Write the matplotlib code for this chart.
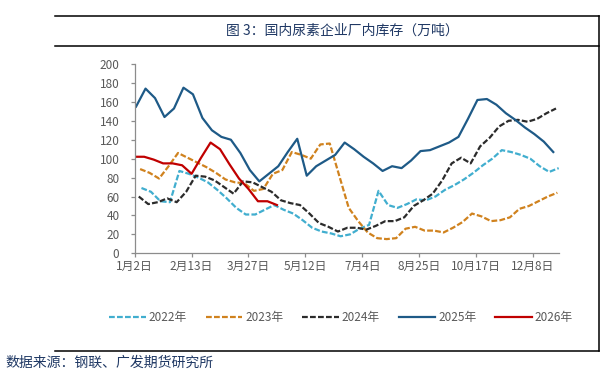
import datetime
import matplotlib
matplotlib.use("Agg")
import matplotlib.pyplot as plt
from matplotlib.lines import Line2D

plt.rcParams['font.family'] = ['Noto Sans CJK SC', 'DejaVu Sans']

# weekly factory inventory (10k t), one point per week starting from the first Thursday
v2022 = [69, 65, 55, 54, 87, 84, 80, 75, 67, 58, 48, 41, 41, 46, 51, 46, 42, 35, 27, 23,
         21, 18, 20, 26, 30, 66, 51, 48, 52, 57, 56, 60, 67, 72, 78, 85, 93, 100, 109, 107,
         104, 100, 92, 86, 90]
v2023 = [89, 85, 79, 92, 106, 101, 96, 91, 85, 78, 75, 74, 66, 68, 84, 88, 107, 104, 100, 115,
         116, 82, 48, 34, 22, 16, 15, 16, 26, 28, 24, 24, 22, 27, 33, 42, 39, 34, 35, 38,
         47, 50, 55, 60, 64]
v2024 = [60, 52, 54, 58, 54, 65, 82, 81, 77, 70, 63, 76, 75, 70, 65, 56, 53, 51, 42, 32,
         28, 23, 27, 27, 25, 29, 34, 34, 38, 50, 56, 63, 77, 95, 101, 95, 113, 122, 134, 140,
         141, 139, 142, 148, 153]
v2025 = [155, 174, 164, 144, 153, 175, 168, 143, 130, 123, 120, 106, 88, 76, 84, 92, 107, 121, 82, 92,
         98, 104, 117, 110, 102, 95, 87, 92, 90, 98, 108, 109, 113, 117, 123, 142, 162, 163, 157, 148,
         141, 133, 126, 118, 107]
v2026 = [102, 102, 99, 95, 95, 93, 84, 101, 117, 110, 94, 79, 68, 55, 55, 51]

years = [2022, 2023, 2024, 2025, 2026]
series = [v2022, v2023, v2024, v2025, v2026]
colors = ['#41AECF', '#D0821E', '#2B2B2B', '#1E5A87', '#C00000']
dashed = [True, True, True, False, False]

tick_days = [0, 42, 84, 126, 168, 210, 252, 294]
tick_labels = ['1月2日', '2月13日', '3月27日', '5月12日', '7月4日', '8月25日', '10月17日', '12月8日']


def first_thursday(year):
    # day of year (0 = Jan 1) of the first Thursday
    return (3 - datetime.date(year, 1, 1).weekday()) % 7


fig = plt.figure(figsize=(6.04, 3.70), dpi=100)
ax = fig.add_axes([0.223, 0.3154, 0.702, 0.5116])

for yr, vals, c, d in zip(years, series, colors, dashed):
    x = [first_thursday(yr) + 7 * i for i in range(len(vals))]
    line, = ax.plot(x, vals, color=c, lw=1.6, label=f'{yr}年')
    if d:
        line.set_dashes((2.6, 1.0))

ax.set_xlim(0, 313)
ax.set_ylim(0, 200)
ax.set_yticks(range(0, 201, 20))
ax.set_xticks(tick_days)
ax.set_xticklabels(tick_labels)

for s in ['top', 'right']:
    ax.spines[s].set_visible(False)
for s in ['left', 'bottom']:
    ax.spines[s].set_color('#8C8C8C')
    ax.spines[s].set_linewidth(0.9)

ax.tick_params(axis='y', length=3, width=0.9, color='#8C8C8C', labelcolor='#595959',
               labelsize=8.5, pad=8)
ax.tick_params(axis='x', length=3, width=0.9, color='#8C8C8C', labelcolor='#595959',
               labelsize=8.5, pad=2)

fig.legend(loc='center', bbox_to_anchor=(0.5646, 0.1424), ncol=5, frameon=False,
           handlelength=3.1, handletextpad=0.25, columnspacing=1.6, fontsize=8.5,
           labelcolor='#595959')

# title bar and frame
navy = '#1F3864'
fig.text(342 / 604, 1 - 31 / 370, '图 3：国内尿素企业厂内库存（万吨）', ha='center', va='center',
         fontsize=10, color=navy)
fig.text(5 / 604, 1 - 363 / 370, '数据来源：钢联、广发期货研究所', ha='left', va='center',
         fontsize=10, color=navy)

for yy in [16, 46, 351]:
    fig.add_artist(Line2D([55 / 604, 599 / 604], [1 - yy / 370] * 2, color='black', lw=1.1,
                          transform=fig.transFigure))
fig.add_artist(Line2D([599 / 604] * 2, [1 - 16 / 370, 1 - 351 / 370], color='black', lw=1.1,
                      transform=fig.transFigure))

fig.savefig('out.png', dpi=100)
